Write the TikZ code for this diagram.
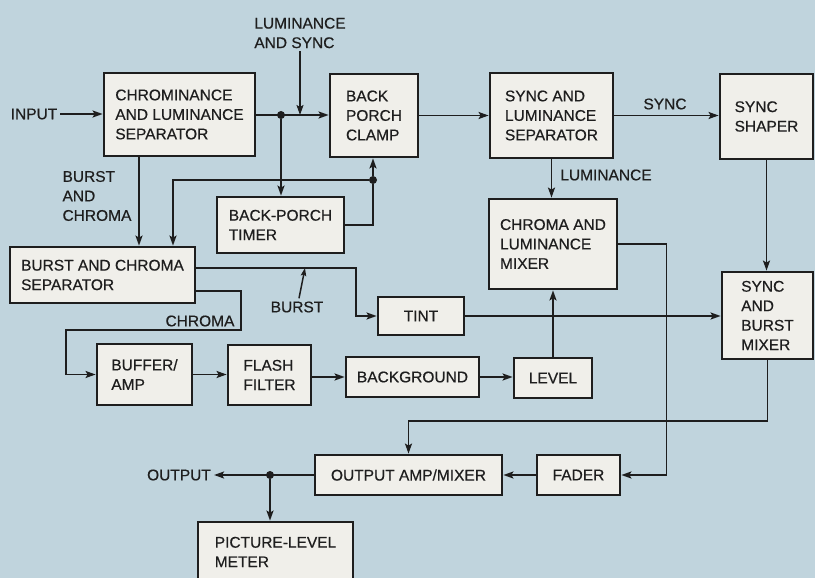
\documentclass[tikz,border=0pt]{standalone}
\usepackage{fontspec}
\setmainfont{Liberation Sans}
\newfontfamily\diaface[FakeBold=0.5]{Liberation Sans}
\usepackage{tikz}
\usetikzlibrary{
  arrows.meta,
  positioning,
  calc
}
\usepackage{xcolor}
\definecolor{panelblue}{RGB}{192, 212, 221}
\definecolor{boxfill}  {RGB}{240, 239, 234}
\definecolor{inkgrey}  {RGB}{ 30,  30,  30}
\newcommand{\diafont}{\diaface\fontsize{15.5}{19.5}\selectfont}
\tikzset{
  blk/.style={
    draw=inkgrey, fill=boxfill, line width=2.8pt,
    align=left, font=\diafont, text=inkgrey, inner sep=0pt
  },
  lbl/.style={
    align=left, font=\diafont, text=inkgrey, inner sep=3pt
  },
  wire/.style={
    draw=inkgrey, line width=1.8pt
  },
  arr/.style={
    wire, -{Stealth[length=10pt, width=7pt, inset=2pt]}
  },
  thinarr/.style={
    draw=inkgrey, line width=1.5pt, -{Stealth[length=8pt, width=5.5pt, inset=1.5pt]}
  },
  jdot/.style={
    circle, fill=inkgrey, inner sep=0pt, minimum size=8pt
  },
}

\begin{document}
\begin{tikzpicture}[x=1pt, y=-1pt]

% ── Panel ─────────────────────────────────────────────────────────────────────
\clip (0,0) rectangle (815,578);
\fill[panelblue] (0,0) rectangle (815,578);

% ── Top row ───────────────────────────────────────────────────────────────────
\node[blk, minimum width=151, minimum height=83] (clsep) at (179.5,114.5) {
  CHROMINANCE\\AND LUMINANCE\\SEPARATOR
};
\node[blk, minimum width=88, minimum height=83] (clamp) at (374,115.5) {
  BACK\\PORCH\\CLAMP
};
\node[blk, minimum width=123, minimum height=85] (slsep) at (551.5,115.5) {
  SYNC AND\\LUMINANCE\\SEPARATOR
};
\node[blk, minimum width=93, minimum height=85] (shaper) at (766.5,116.5) {
  SYNC\\SHAPER
};

% ── Middle blocks ─────────────────────────────────────────────────────────────
\node[blk, minimum width=127, minimum height=56] (timer) at (280.5,225) {
  BACK-PORCH\\TIMER
};
\node[blk, minimum width=185, minimum height=56] (bcsep) at (102.5,275) {
  BURST AND CHROMA\\SEPARATOR
};
\node[blk, minimum width=128, minimum height=90] (clmix) at (553,244) {
  CHROMA AND\\LUMINANCE\\MIXER
};
\node[blk, minimum width=91, minimum height=87] (sbmix) at (767.5,315.5) {
  SYNC\\AND\\BURST\\MIXER
};
\node[blk, minimum width=86, minimum height=38] (tint) at (421,316) {TINT};

% ── Chroma chain ──────────────────────────────────────────────────────────────
\node[blk, minimum width=95, minimum height=61] (buffer) at (144.5,374.5) {
  BUFFER/\\AMP
};
\node[blk, minimum width=83, minimum height=60] (flash) at (269.5,375) {
  FLASH\\FILTER
};
\node[blk, minimum width=133, minimum height=40] (bground) at (412.5,377) {BACKGROUND};
\node[blk, minimum width=78, minimum height=40] (level) at (553,378) {LEVEL};

% ── Output section ────────────────────────────────────────────────────────────
\node[blk, minimum width=187, minimum height=40] (outamp) at (408.5,475) {OUTPUT AMP/MIXER};
\node[blk, minimum width=83, minimum height=40] (fader) at (578.5,475) {FADER};
\node[blk, minimum width=155, minimum height=60] (plm) at (275.5,552) {
  PICTURE-LEVEL\\METER
};

% ── Free labels ───────────────────────────────────────────────────────────────
\node[lbl] (inlbl)  at (34,114)  {INPUT};
\node[lbl] (lslbl)  at (300,33)  {LUMINANCE\\AND SYNC};
\node[lbl] (bclbl)  at (97,196)  {BURST\\AND\\CHROMA};
\node[lbl] (blbl)   at (297,307) {BURST};
\node[lbl] (crlbl)  at (200,321) {CHROMA};
\node[lbl] (synlbl) at (665,104) {SYNC};
\node[lbl] (lumlbl) at (606,175) {LUMINANCE};
\node[lbl] (outlbl) at (179,475) {OUTPUT};

% ── Junctions ─────────────────────────────────────────────────────────────────
\node[jdot] (j1) at (281,115) {};
\node[jdot] (j2) at (373,180) {};
\node[jdot] (j3) at (270,475) {};
\coordinate (burstpt) at (305,268);
\coordinate (crbend)  at (241,330);

% ── Luminance path ────────────────────────────────────────────────────────────
\draw[arr] (inlbl.east) -- (clsep.west |- inlbl.east);
\draw[arr] (clsep.east |- j1) -- (clamp.west |- j1);
\draw[arr] (lslbl.south) -- (lslbl.south |- j1);
\draw[arr] (j1) -- (timer.north -| j1);
\draw[wire] (timer.east) -| (j2);
\draw[arr] (j2) -- (clamp.south -| j2);
\draw[arr] (j2) -| ([xshift=70.5pt]bcsep.north);
\draw[arr] ([xshift=-40.5pt]clsep.south) -- ([xshift=36.5pt]bcsep.north);
\draw[arr] (clamp.east) -- (slsep.west |- clamp.east);
\draw[arr] (slsep.east) -- (shaper.west |- slsep.east);
\draw[arr] (slsep.south) -- (clmix.north -| slsep.south);
\draw[arr] (shaper.south) -- (sbmix.north -| shaper.south);

% ── Burst and chroma paths ────────────────────────────────────────────────────
\draw[arr] ([yshift=7pt]bcsep.east) -| ([xshift=-21pt]tint.west) -- (tint.west);
\draw[thinarr] ([xshift=2pt]blbl.north) -- (burstpt);
\draw[arr] ([yshift=-16pt]bcsep.east) -| (crbend)
  -| ([xshift=-30pt]buffer.west) -- (buffer.west);
\draw[arr] (buffer.east) -- (flash.west |- buffer.east);
\draw[arr] (flash.east |- bground.west) -- (bground.west);
\draw[arr] (bground.east) -- (level.west |- bground.east);
\draw[arr] (level.north) -- (clmix.south -| level.north);
\draw[arr] (tint.east) -- (sbmix.west |- tint.east);

% ── Output paths ──────────────────────────────────────────────────────────────
\draw[arr] (clmix.east) -| ([xshift=45pt]fader.east) -- (fader.east);
\draw[arr] (sbmix.south) |- ([yshift=33pt]outamp.north) -- (outamp.north);
\draw[arr] (fader.west) -- (outamp.east);
\draw[arr] (outamp.west) -- (outamp.west -| outlbl.east);
\draw[arr] (j3) -- (plm.north -| j3);

\end{tikzpicture}
\end{document}
